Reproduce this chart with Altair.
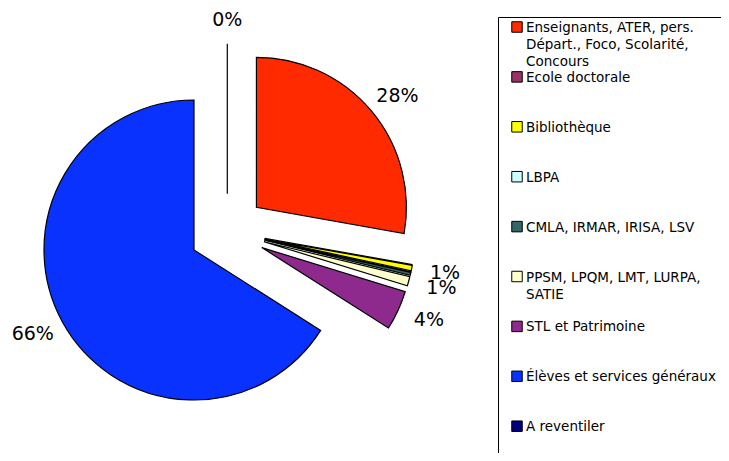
import altair as alt
import pandas as pd

categories = [
    "Enseignants, ATER, pers.\nDépart., Foco, Scolarité,\nConcours",
    "Ecole doctorale",
    "Bibliothèque",
    "LBPA",
    "CMLA, IRMAR, IRISA, LSV",
    "PPSM, LPQM, LMT, LURPA,\nSATIE",
    "STL et Patrimoine",
    "Élèves et services généraux",
    "A reventiler",
]
values = [27.8, 0.0, 0.6, 0.05, 0.3, 1.0, 4.25, 66.0, 0.0]
show_label = [1, 0, 1, 0, 0, 1, 1, 1, 1]
colors = ["#FF2A00", "#993366", "#FFFF00", "#CCFFFF", "#336666",
          "#FFFFCC", "#8E2A8E", "#0A32FF", "#000080"]

df = pd.DataFrame({
    "cat": categories,
    "value": values,
    "show": show_label,
    "i": list(range(len(categories))),
})

W, H = 713, 445
CX, CY = 219.3, 223.7      # pie centre (chart pixels)
R = 150                    # pie radius
EXPLODE = 38               # explosion distance of every slice
LRX, LRY = 184, 174        # label distance from slice centre (horizontal / vertical)
LEG_Y0, LEG_STEP = 19, 49.9
FONT = "DejaVu Sans"

color = alt.Color("cat:N", scale=alt.Scale(domain=categories, range=colors), legend=None)

base = alt.Chart(df).transform_joinaggregate(
    total="sum(value)"
).transform_window(
    cum="sum(value)", sort=[alt.SortField("i")], frame=[None, 0]
).transform_calculate(
    t0="(datum.cum - datum.value) / datum.total * 2 * PI",
    t1="datum.cum / datum.total * 2 * PI",
).transform_calculate(
    mid="(datum.t0 + datum.t1) / 2",
).transform_calculate(
    cx=f"{CX} + {EXPLODE} * sin(datum.mid)",
    cy=f"{CY} - {EXPLODE} * cos(datum.mid)",
).transform_calculate(
    lx=f"datum.cx + {LRX} * sin(datum.mid)",
    ly=f"datum.cy - {LRY} * cos(datum.mid)",
    pct="format(datum.value / datum.total, '.0%')",
)

arcs = base.mark_arc(radius=R, stroke="black", strokeWidth=1.2).encode(
    x=alt.X("cx:Q", scale=None, axis=None),
    y=alt.Y("cy:Q", scale=None, axis=None),
    theta=alt.Theta("t0:Q", scale=None),
    theta2="t1:Q",
    color=color,
)

labels = base.transform_filter("datum.show == 1").mark_text(
    font=FONT, fontSize=19, color="black", align="center", baseline="middle"
).encode(
    x=alt.X("lx:Q", scale=None, axis=None),
    y=alt.Y("ly:Q", scale=None, axis=None),
    text="pct:N",
)

box = alt.Chart(pd.DataFrame({"a": [0]})).mark_rect(
    fill="white", stroke="black", strokeWidth=1
).encode(
    x=alt.value(490.5), x2=alt.value(740), y=alt.value(9.5), y2=alt.value(470)
)

leg = alt.Chart(df).transform_calculate(
    ly=f"{LEG_Y0} + datum.i * {LEG_STEP}",
    ty=f"{LEG_Y0} + datum.i * {LEG_STEP} + 5",
)

leg_sym = leg.mark_square(size=110, stroke="black", strokeWidth=1, opacity=1).encode(
    x=alt.value(509),
    y=alt.Y("ly:Q", scale=None, axis=None),
    color=color,
)

leg_txt = leg.mark_text(
    font=FONT, fontSize=13.5, color="black", align="left", baseline="alphabetic",
    lineBreak="\n", lineHeight=17
).encode(
    x=alt.value(518),
    y=alt.Y("ty:Q", scale=None, axis=None),
    text="cat:N",
)

chart = alt.layer(arcs, labels, box, leg_sym, leg_txt).properties(
    width=W, height=H, padding=0,
    autosize=alt.AutoSizeParams(type="none"),
).configure_view(stroke="transparent")

chart.save("out.html", embed_options={"renderer": "svg", "actions": False})
